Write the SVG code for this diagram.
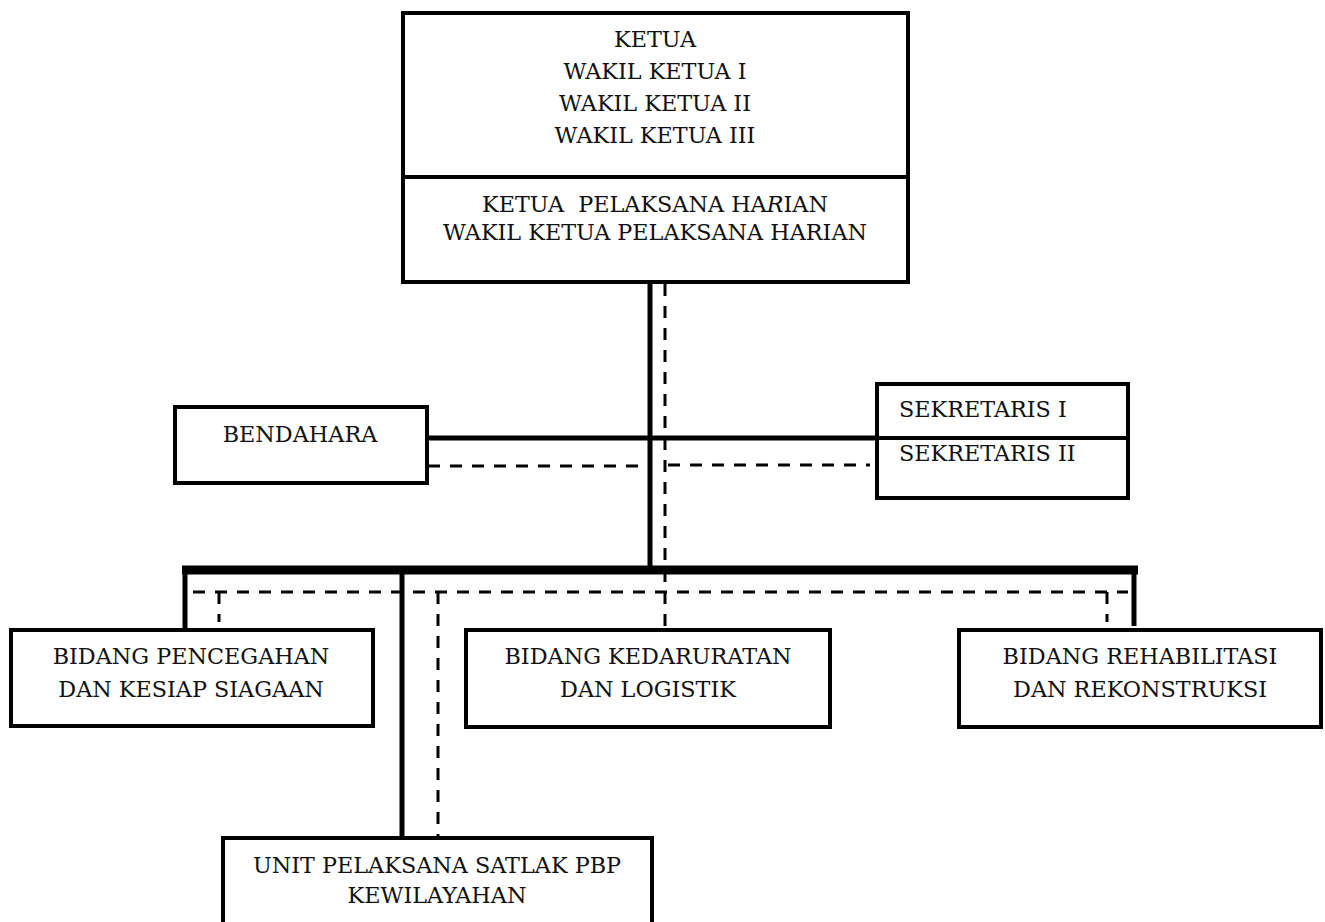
<svg xmlns="http://www.w3.org/2000/svg" width="1325" height="922" viewBox="0 0 1325 922">
<style>
.box{fill:#fff;stroke:#000;stroke-width:4}
.t{font-family:"DejaVu Serif",serif;font-size:22.3px;fill:#111;text-anchor:middle}
.tl{text-anchor:start}
.solid{stroke:#000;stroke-width:5;fill:none}
.bar{stroke:#000;stroke-width:9;fill:none}
.dash{stroke:#000;stroke-width:3;fill:none;stroke-dasharray:12 10}
</style>
<rect width="1325" height="922" fill="#fff"/>
<g id="connectors">
<line class="solid" x1="650" y1="282" x2="650" y2="570"/>
<line class="dash" x1="665" y1="284" x2="665" y2="628"/>
<line class="solid" x1="427" y1="438" x2="877" y2="438"/>
<line class="dash" x1="428" y1="466" x2="638" y2="466"/>
<line class="dash" x1="668" y1="465" x2="870" y2="465"/>
<line class="bar" x1="182" y1="570" x2="1138" y2="570"/>
<line class="solid" x1="185" y1="568" x2="185" y2="630"/>
<line class="solid" x1="1134" y1="568" x2="1134" y2="626"/>
<line class="solid" x1="402" y1="570" x2="402" y2="838"/>
<line class="dash" x1="193" y1="592" x2="1128" y2="592"/>
<line class="dash" x1="219" y1="592" x2="219" y2="622"/>
<line class="dash" x1="1107" y1="592" x2="1107" y2="622"/>
<line class="dash" x1="438" y1="592" x2="438" y2="838"/>
</g>
<g id="ketua">
<rect class="box" x="403" y="13" width="505" height="269"/>
<line stroke="#000" stroke-width="4" x1="403" y1="177" x2="908" y2="177"/>
<text class="t" x="655" y="47">KETUA</text>
<text class="t" x="655" y="79">WAKIL KETUA I</text>
<text class="t" x="655" y="111">WAKIL KETUA II</text>
<text class="t" x="655" y="143">WAKIL KETUA III</text>
<text class="t" x="655" y="212" xml:space="preserve">KETUA  PELAKSANA HA<tspan font-style="italic">R</tspan>IAN</text>
<text class="t" x="655" y="240">WAKIL KETUA PELAKSANA HARIAN</text>
</g>
<g id="bendahara">
<rect class="box" x="175" y="407" width="252" height="76"/>
<text class="t" x="300" y="442">BENDAHARA</text>
</g>
<g id="sekretaris">
<rect class="box" x="877" y="384" width="251" height="114"/>
<line stroke="#000" stroke-width="4" x1="877" y1="438" x2="1128" y2="438"/>
<text class="t tl" x="899" y="417">SEKRETARIS I</text>
<text class="t tl" x="899" y="461">SEKRETARIS II</text>
</g>
<g id="pencegahan">
<rect class="box" x="11" y="630" width="362" height="96"/>
<text class="t" x="191" y="664">BIDANG PENCEGAHAN</text>
<text class="t" x="191" y="697">DAN KESIAP SIAGAAN</text>
</g>
<g id="kedaruratan">
<rect class="box" x="466" y="630" width="364" height="97"/>
<text class="t" x="648" y="664">BIDANG KEDARURATAN</text>
<text class="t" x="648" y="697">DAN LOGISTIK</text>
</g>
<g id="rehabilitasi">
<rect class="box" x="959" y="630" width="362" height="97"/>
<text class="t" x="1140" y="664">BIDANG REHABILITASI</text>
<text class="t" x="1140" y="697">DAN REKONSTRUKSI</text>
</g>
<g id="unit">
<rect class="box" x="223" y="838" width="429" height="100"/>
<text class="t" x="437" y="873">UNIT PELAKSANA SATLAK PBP</text>
<text class="t" x="437" y="903">KEWILAYAHAN</text>
</g>
</svg>
